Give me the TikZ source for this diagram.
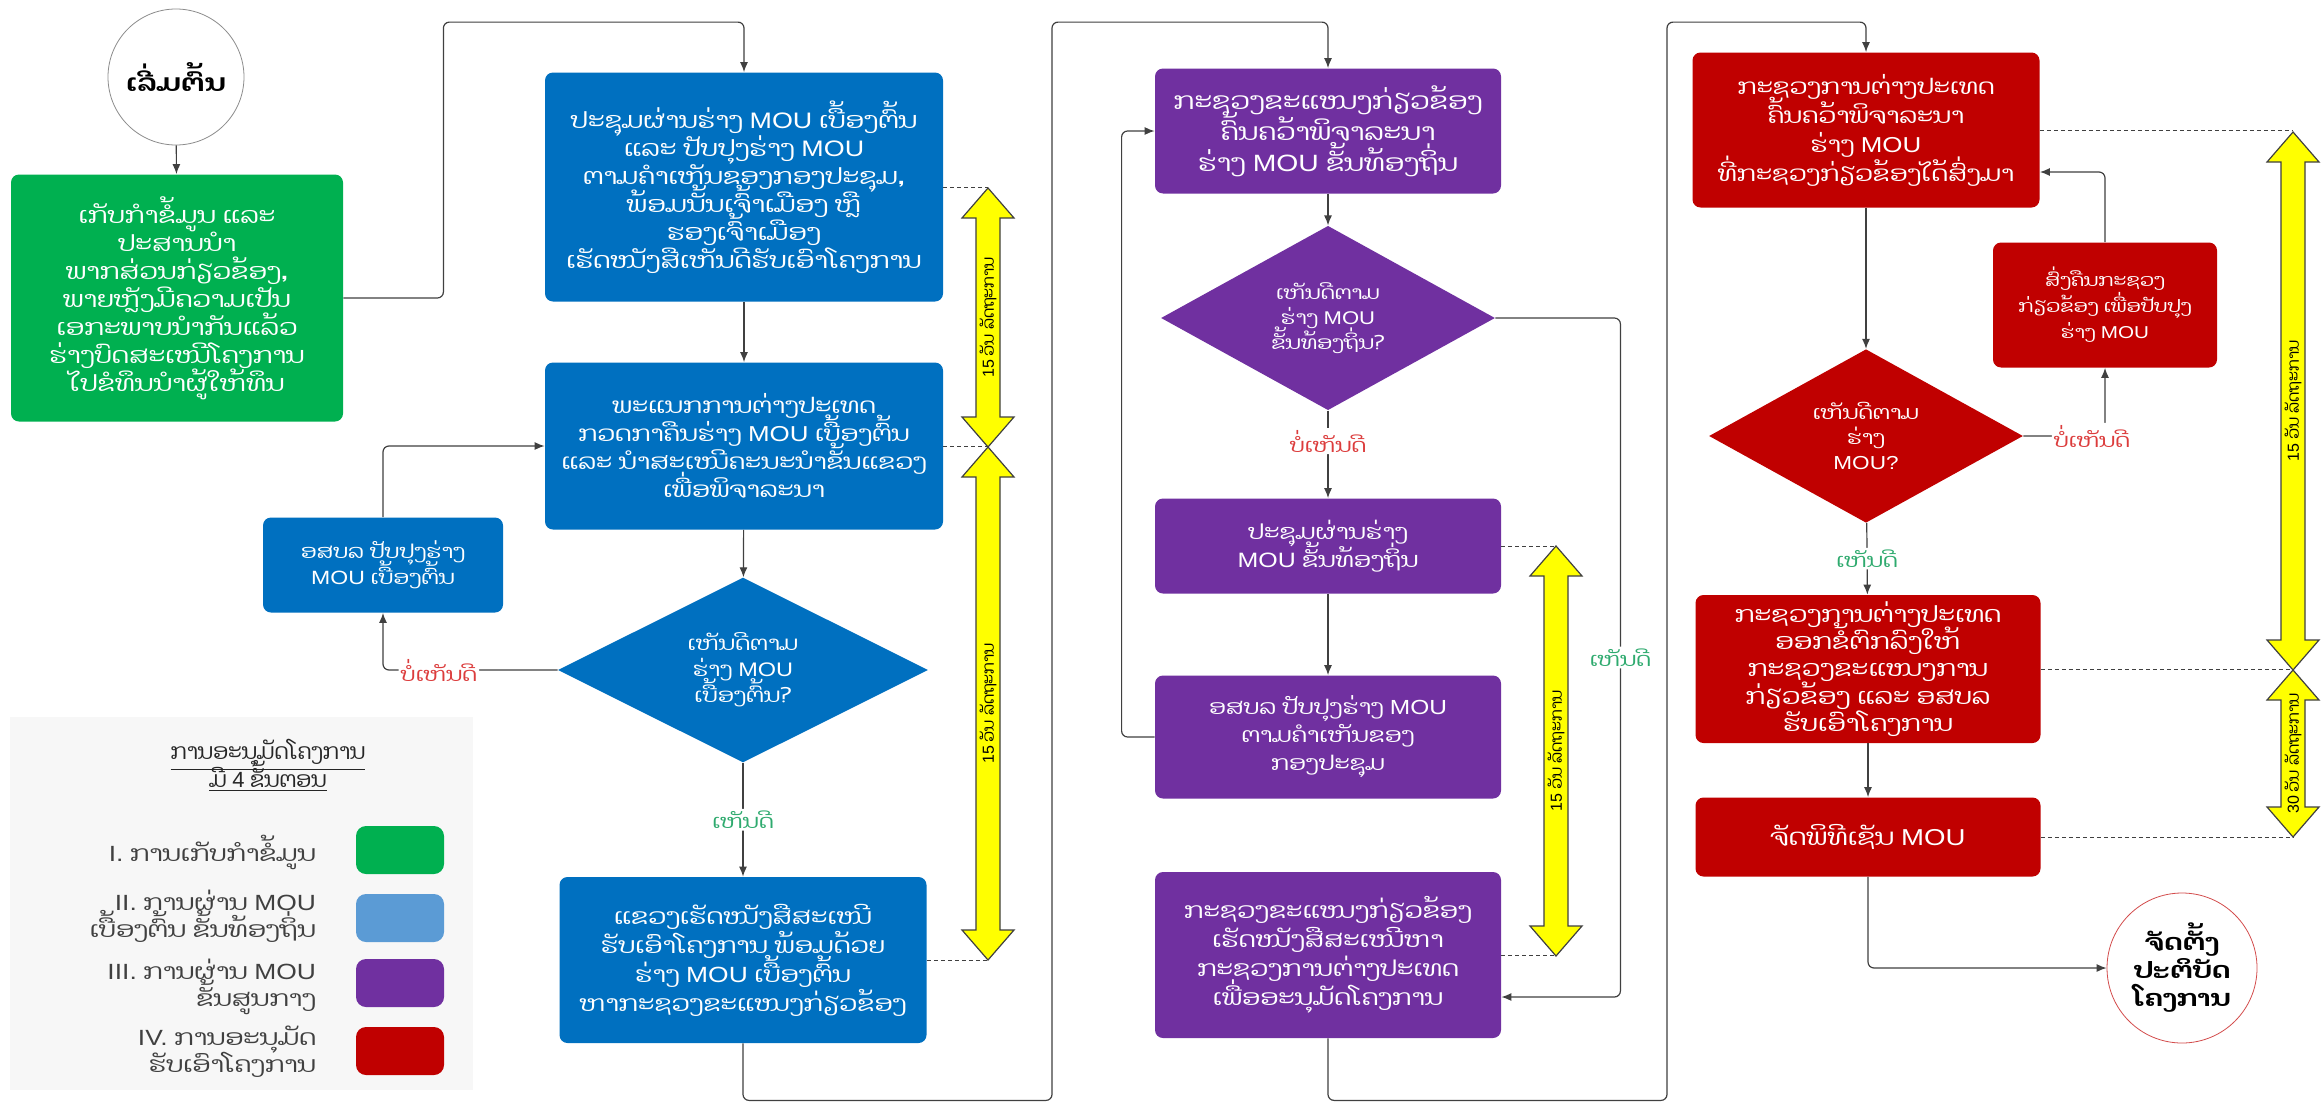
\documentclass[tikz,border=0pt]{standalone}
\usepackage{fontspec}
\setmainfont[Script=Lao,FakeStretch=1.2]{Dhyana}
\newfontfamily\laonarrow[Script=Lao]{Dhyana}
\newfontfamily\lat[FakeStretch=1.2]{Liberation Sans}
\newfontfamily\latnarrow{Liberation Sans}
\usepackage{xcolor}
\usepackage{tikz}
\usetikzlibrary{arrows.meta,positioning,shapes.geometric}
\definecolor{stgreen}{RGB}{0,176,80}
\definecolor{stblue}{RGB}{0,112,192}
\definecolor{legblue}{RGB}{91,155,213}
\definecolor{stpurple}{RGB}{112,48,160}
\definecolor{stred}{RGB}{192,0,0}
\definecolor{okgreen}{RGB}{46,170,110}
\definecolor{nored}{RGB}{220,60,60}
\definecolor{linegray}{RGB}{64,64,64}
\definecolor{dayyellow}{RGB}{255,255,0}
\lineskiplimit=-20pt
\newcommand\boxtext{\fontsize{10}{12.5}\selectfont}
\newcommand\lbltext{\fontsize{9.6}{12}\selectfont}
\newcommand\daytext{\laonarrow\fontsize{8}{9}\selectfont}
\newcommand\legtext{\fontsize{11}{13.5}\selectfont}
\newcommand\mou{{\lat MOU}}
\tikzset{
	box/.style={
		rectangle,
		rounded corners=4pt,
		text=white,
		align=center,
		inner sep=2pt,
		font=\boxtext
	},
	stage1/.style={box,fill=stgreen},
	stage2/.style={box,fill=stblue},
	stage3/.style={box,fill=stpurple},
	stage4/.style={box,fill=stred},
	choice/.style={
		diamond,
		text=white,
		align=center,
		inner sep=0pt,
		font=\boxtext
	},
	fs/.style 2 args={font=\fontsize{#1}{#2}\selectfont},
	terminal/.style={circle,draw,fill=white,align=center,inner sep=1pt},
	line/.style={-{Latex[length=5pt,width=4pt]},draw=linegray,semithick,rounded corners=3pt},
	guide/.style={draw=linegray,thin,dash pattern=on 2pt off 1.5pt},
	yeslbl/.style={text=okgreen,fill=white,font=\lbltext,inner sep=1pt},
	nolbl/.style={text=nored,fill=white,font=\lbltext,inner sep=1pt},
	daylbl/.style={rotate=90,font=\daytext,inner sep=0pt},
	swatch/.style={rectangle,rounded corners=5pt,minimum width=44pt,minimum height=24pt},
	legitem/.style={anchor=east,align=right,text=black!75,font=\legtext}
}
% name, x, top, bottom, text
\newcommand\dayspan[5]{%
	\filldraw[fill=dayyellow,draw=black!75,line width=0.6pt]
		(#2,#3) -- ({#2+26},{#3+30}) -- ({#2+12},{#3+30}) -- ({#2+12},{#4-30}) -- ({#2+26},{#4-30})
		-- (#2,#4) -- ({#2-26},{#4-30}) -- ({#2-12},{#4-30}) -- ({#2-12},{#3+30}) -- ({#2-26},{#3+30}) -- cycle;
	\node[daylbl] (#1) at (#2,{(#3+#4)/2}) {#5};
}

\begin{document}
\begin{tikzpicture}[x=0.5pt,y=-0.5pt]
	\fill[white] (0,0) rectangle (2323,1108);
	\useasboundingbox (0,0) rectangle (2323,1108);

	% legend
	\fill[black!3] (10,717) rectangle (473,1090);
	\node[align=center,text=black!85,font=\laonarrow\fontsize{11}{14}\selectfont] (legtitle) at (268,765)
		{\underline{ການອະນຸມັດໂຄງການ}\\\underline{ມີ {\latnarrow 4} ຂັ້ນຕອນ}};
	\node[swatch,fill=stgreen] (sw1) at (400,850) {};
	\node[swatch,fill=legblue] (sw2) at (400,918) {};
	\node[swatch,fill=stpurple] (sw3) at (400,983) {};
	\node[swatch,fill=stred] (sw4) at (400,1051) {};
	\node[legitem] (leg1) at (323,852) {{\lat I.} ການເກັບກຳຂໍ້ມູນ};
	\node[legitem] (leg2) at (323,916) {{\lat II.} ການຜ່ານ \mou\\ເບື້ອງຕົ້ນ ຂັ້ນທ້ອງຖິ່ນ};
	\node[legitem] (leg3) at (323,987) {{\lat III.} ການຜ່ານ \mou\\ຂັ້ນສູນກາງ};
	\node[legitem] (leg4) at (323,1052) {{\lat IV.} ການອະນຸມັດ\\ຮັບເອົາໂຄງການ};

	% stage I
	\node[terminal,draw=black!45,minimum size=68pt,fs={12}{14}] (start) at (176,77) {\bfseries ເລີ່ມຕົ້ນ};
	\node[stage1,minimum width=166pt,minimum height=123.5pt,fs={11.2}{14}] (collect) at (177,298)
		{ເກັບກຳຂໍ້ມູນ ແລະ\\ປະສານນຳ\\ພາກສ່ວນກ່ຽວຂ້ອງ,\\ພາຍຫຼັງມີຄວາມເປັນ\\ເອກະພາບນຳກັນແລ້ວ\\ຮ່າງບົດສະເໜີໂຄງການ\\ໄປຂໍທຶນນຳຜູ້ໃຫ້ທຶນ};

	% stage II
	\node[stage2,minimum width=199pt,minimum height=114.5pt,fs={11.2}{14}] (meet1) at (744,187)
		{ປະຊຸມຜ່ານຮ່າງ \mou{} ເບື້ອງຕົ້ນ\\ແລະ ປັບປຸງຮ່າງ \mou\\ຕາມຄຳເຫັນຂອງກອງປະຊຸມ,\\ພ້ອມນັ້ນເຈົ້າເມືອງ ຫຼື\\ຮອງເຈົ້າເມືອງ\\ເຮັດໜັງສືເຫັນດີຮັບເອົາໂຄງການ};
	\node[stage2,minimum width=199pt,minimum height=83.5pt,fs={10.8}{14}] (review) at (744,446)
		{ພະແນກການຕ່າງປະເທດ\\ກວດກາຄືນຮ່າງ \mou{} ເບື້ອງຕົ້ນ\\ແລະ ນຳສະເໜີຄະນະນຳຂັ້ນແຂວງ\\ເພື່ອພິຈາລະນາ};
	\node[stage2,minimum width=120pt,minimum height=47.5pt,fs={9.6}{13}] (fix1) at (383,565)
		{ອສບລ ປັບປຸງຮ່າງ\\\mou{} ເບື້ອງຕົ້ນ};
	\node[choice,fill=stblue,minimum width=185pt,minimum height=77pt,fs={9.8}{13}] (agree1) at (743,670)
		{ເຫັນດີຕາມ\\ຮ່າງ \mou\\ເບື້ອງຕົ້ນ?};
	\node[stage2,minimum width=183.5pt,minimum height=83pt,fs={11}{14.5}] (propose) at (743,960)
		{ແຂວງເຮັດໜັງສືສະເໜີ\\ຮັບເອົາໂຄງການ ພ້ອມດ້ວຍ\\ຮ່າງ \mou{} ເບື້ອງຕົ້ນ\\ຫາກະຊວງຂະແໜງກ່ຽວຂ້ອງ};

	% stage III
	\node[stage3,minimum width=173pt,minimum height=62.5pt,fs={11.8}{15.5}] (study) at (1328,131)
		{ກະຊວງຂະແໜງກ່ຽວຂ້ອງ\\ຄົ້ນຄວ້າພິຈາລະນາ\\ຮ່າງ \mou{} ຂັ້ນທ້ອງຖິ່ນ};
	\node[choice,fill=stpurple,minimum width=167pt,minimum height=75.5pt,fs={9.2}{12.5}] (agree2) at (1328,318)
		{ເຫັນດີຕາມ\\ຮ່າງ \mou\\ຂັ້ນທ້ອງຖິ່ນ?};
	\node[stage3,minimum width=173pt,minimum height=47.5pt,fs={10.4}{14}] (meet2) at (1328,546)
		{ປະຊຸມຜ່ານຮ່າງ\\\mou{} ຂັ້ນທ້ອງຖິ່ນ};
	\node[stage3,minimum width=173pt,minimum height=61.5pt,fs={10.2}{14}] (fix2) at (1328,737)
		{ອສບລ ປັບປຸງຮ່າງ \mou\\ຕາມຄຳເຫັນຂອງ\\ກອງປະຊຸມ};
	\node[stage3,minimum width=173pt,minimum height=83pt,fs={11}{14.5}] (submit) at (1328,955)
		{ກະຊວງຂະແໜງກ່ຽວຂ້ອງ\\ເຮັດໜັງສືສະເໜີຫາ\\ກະຊວງການຕ່າງປະເທດ\\ເພື່ອອະນຸມັດໂຄງການ};

	% stage IV
	\node[stage4,minimum width=173.5pt,minimum height=77.5pt,fs={10.8}{14.5}] (check) at (1866,130)
		{ກະຊວງການຕ່າງປະເທດ\\ຄົ້ນຄວ້າພິຈາລະນາ\\ຮ່າງ \mou\\ທີ່ກະຊວງກ່ຽວຂ້ອງໄດ້ສົ່ງມາ};
	\node[stage4,minimum width=112pt,minimum height=62.5pt,fs={8.6}{13}] (back) at (2105,305)
		{ສົ່ງຄືນກະຊວງ\\ກ່ຽວຂ້ອງ ເພື່ອປັບປຸງ\\ຮ່າງ \mou};
	\node[choice,fill=stred,minimum width=157pt,minimum height=76pt,fs={9.4}{12.5}] (agree3) at (1866,436)
		{ເຫັນດີຕາມ\\ຮ່າງ\\{\lat MOU?}};
	\node[stage4,minimum width=172.5pt,minimum height=74pt,fs={11.2}{13.6}] (approve) at (1868,669)
		{ກະຊວງການຕ່າງປະເທດ\\ອອກຂໍ້ຕົກລົງໃຫ້\\ກະຊວງຂະແໜງການ\\ກ່ຽວຂ້ອງ ແລະ ອສບລ\\ຮັບເອົາໂຄງການ};
	\node[stage4,minimum width=172.5pt,minimum height=39.5pt,fs={11.5}{14}] (sign) at (1868,837)
		{ຈັດພິທີເຊັນ \mou};
	\node[terminal,draw=stred!70,minimum size=75pt,fs={11.5}{14}] (finish) at (2182,968)
		{\bfseries ຈັດຕັ້ງ\\\bfseries ປະຕິບັດ\\\bfseries ໂຄງການ};

	% connectors
	\draw[line] (start) -- (collect);
	\draw[line] (collect.east) -- ++(100,0) |- ([yshift=25pt]meet1.north) -- (meet1.north);
	\draw[line] (meet1) -- (review);
	\draw[line] (review) -- (agree1);
	\draw[line] (agree1.west) -| node[nolbl,pos=0.34]{ບໍ່ເຫັນດີ} (fix1.south);
	\draw[line] (fix1.north) |- (review.west);
	\draw[line] (agree1) -- node[yeslbl]{ເຫັນດີ} (propose);
	\draw[line] (propose.south) -- ++(0,57) -- ++(309,0) |- ([yshift=23pt]study.north) -- (study.north);

	\draw[line] (study) -- (agree2);
	\draw[line] (agree2) -- node[nolbl,pos=0.35]{ບໍ່ເຫັນດີ} (meet2);
	\draw[line] (meet2) -- (fix2);
	\draw[line] (fix2.west) -- ++(-33,0) |- (study.west);
	\draw[line] (agree2.east) -- ++(125,0) |- node[yeslbl,pos=0.25]{ເຫັນດີ} ([yshift=-21pt]submit.east);
	\draw[line] (submit.south) -- ++(0,62) -- ++(339,0) |- ([yshift=15pt]check.north) -- (check.north);

	\draw[line] (check) -- (agree3);
	\draw[line] (agree3.east) -| node[nolbl,pos=0.42]{ບໍ່ເຫັນດີ} (back.south);
	\draw[line] (back.north) |- ([yshift=-21pt]check.east);
	\draw[line] (agree3) -- node[yeslbl]{ເຫັນດີ} (approve);
	\draw[line] (approve) -- (sign);
	\draw[line] (sign.south) |- (finish.west);

	% time spans
	\dayspan{span1}{988}{188}{447}{{\latnarrow 15} ວັນ ລັດຖະການ}
	\dayspan{span2}{988}{447}{960}{{\latnarrow 15} ວັນ ລັດຖະການ}
	\dayspan{span3}{1556}{546}{956}{{\latnarrow 15} ວັນ ລັດຖະການ}
	\dayspan{span4}{2293}{132}{670}{{\latnarrow 15} ວັນ ລັດຖະການ}
	\dayspan{span5}{2293}{670}{837}{{\latnarrow 30} ວັນ ລັດຖະການ}

	\draw[guide] (meet1.east) -- (meet1.east -| span1);
	\draw[guide] (review.east) -- (review.east -| span1);
	\draw[guide] (propose.east) -- (propose.east -| span2);
	\draw[guide] (meet2.east) -- (meet2.east -| span3);
	\draw[guide] (submit.east) -- (submit.east -| span3);
	\draw[guide] (check.east) -- (check.east -| span4);
	\draw[guide] (approve.east) -- (approve.east -| span4);
	\draw[guide] (sign.east) -- (sign.east -| span5);
\end{tikzpicture}
\end{document}
